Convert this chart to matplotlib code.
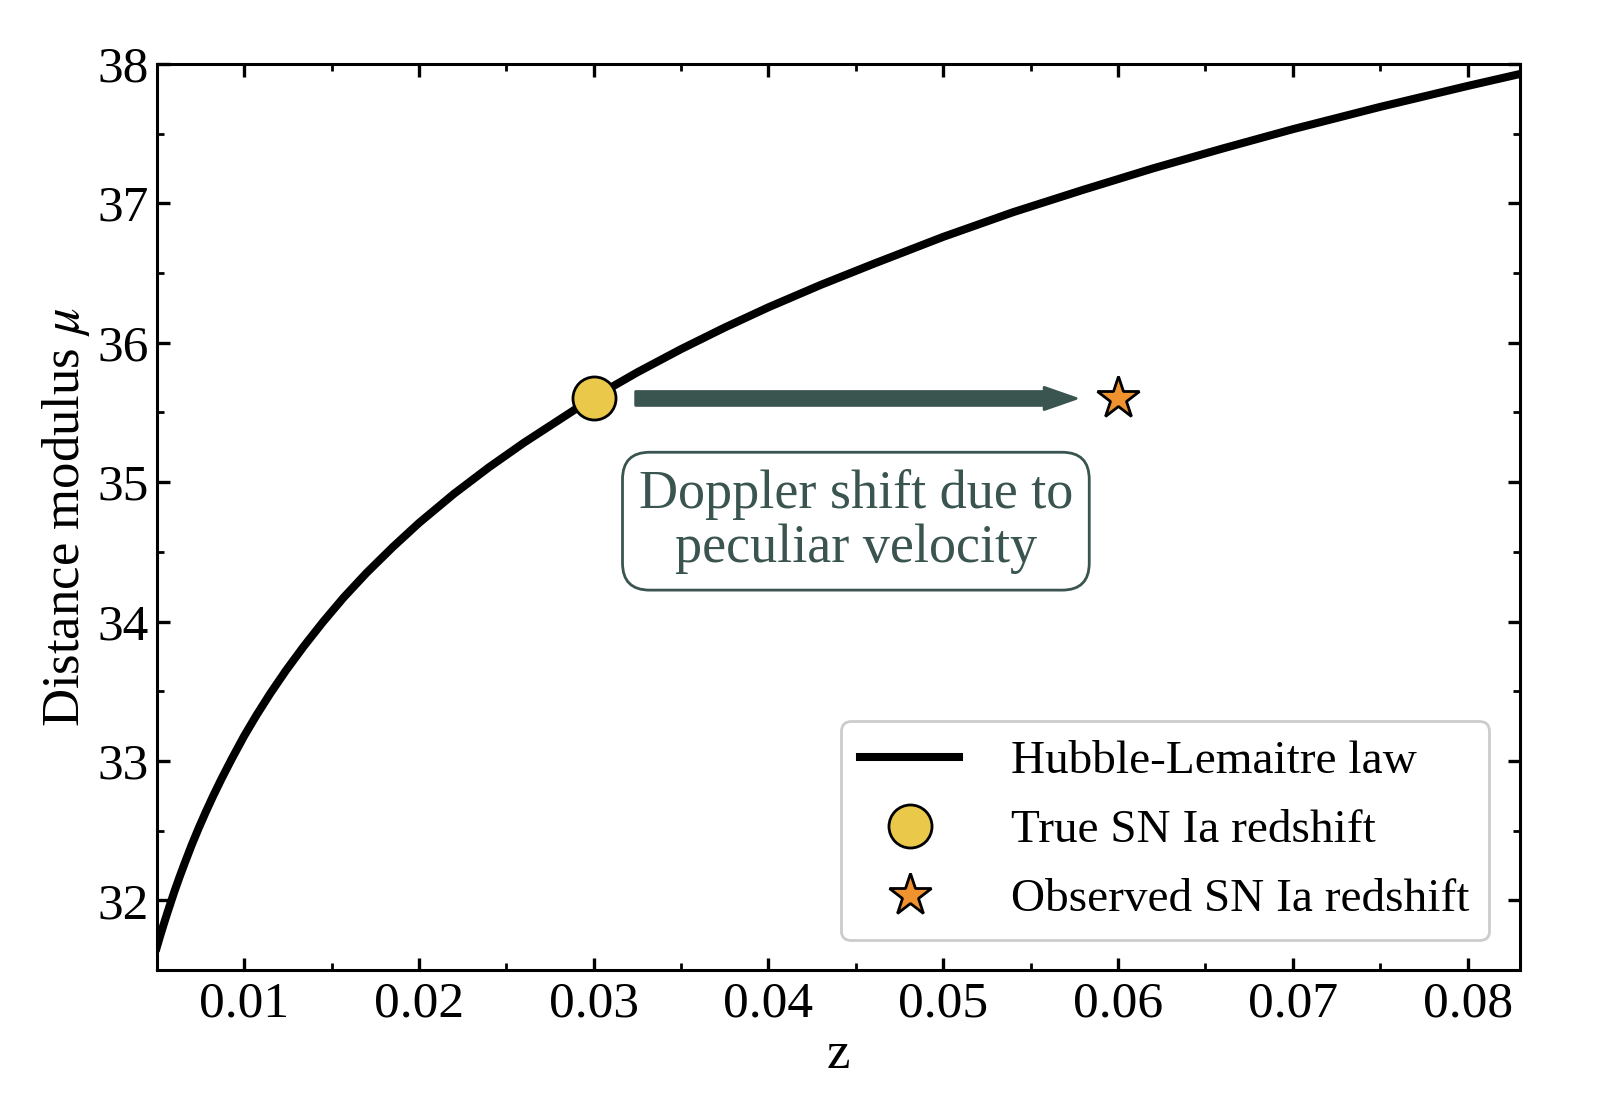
import matplotlib
matplotlib.use('Agg')
import matplotlib.pyplot as plt

# values
z_curve = [0.0050, 0.0052, 0.0054, 0.0056, 0.0058, 0.0060, 0.0063, 0.0066, 0.0070,
           0.0074, 0.0078, 0.0082, 0.0087, 0.0093, 0.0100, 0.0107, 0.0115, 0.0124,
           0.0134, 0.0145, 0.0157, 0.0170, 0.0185, 0.0200, 0.0220, 0.0240, 0.0260,
           0.0280, 0.0300, 0.0325, 0.0350, 0.0375, 0.0400, 0.0430, 0.0460, 0.0500,
           0.0540, 0.0580, 0.0620, 0.0660, 0.0700, 0.0750, 0.0800, 0.0830]
mu_curve = [31.664, 31.750, 31.831, 31.910, 31.986, 32.062, 32.168, 32.269, 32.399,
            32.520, 32.634, 32.743, 32.872, 33.018, 33.180, 33.328, 33.486, 33.651,
            33.821, 33.996, 34.174, 34.349, 34.534, 34.707, 34.916, 35.106, 35.282,
            35.445, 35.608, 35.788, 35.954, 36.109, 36.254, 36.415, 36.565, 36.759,
            36.936, 37.096, 37.250, 37.393, 37.531, 37.691, 37.841, 37.927]

z_true = 0.03
z_obs = 0.06
mu_sn = 35.6

xticks = [0.01, 0.02, 0.03, 0.04, 0.05, 0.06, 0.07, 0.08]
yticks = [32, 33, 34, 35, 36, 37, 38]

slate = '#3a5450'

plt.rcParams['font.family'] = ['Liberation Serif', 'DejaVu Serif']
plt.rcParams['mathtext.fontset'] = 'stix'

fig = plt.figure(figsize=(8, 5.5), dpi=200)
ax = fig.add_axes([0.098, 0.118, 0.852, 0.824])

ax.plot(z_curve, mu_curve, color='black', lw=2.9, label='Hubble-Lemaitre law', zorder=2,
        solid_joinstyle='round')
ax.plot([z_true], [mu_sn], 'o', ms=15.5, mfc='#eac84a', mec='black', mew=1.0,
        label='True SN Ia redshift', zorder=4)
ax.plot([z_obs], [mu_sn], '*', ms=16, mfc='#f0922e', mec='black', mew=1.0,
        label='Observed SN Ia redshift', zorder=4)

ax.annotate('', xy=(0.0576, mu_sn), xytext=(0.0324, mu_sn),
            arrowprops=dict(arrowstyle='simple,head_length=1.15,head_width=0.8,tail_width=0.5',
                            mutation_scale=10, color=slate, shrinkA=0, shrinkB=0))
ax.text(0.045, 34.72, 'Doppler shift due to\npeculiar velocity', color=slate,
        fontsize=19.5, ha='center', va='center', linespacing=1.1,
        bbox=dict(boxstyle='round,pad=0.3,rounding_size=0.5', fc='white', ec=slate, lw=1.0))

ax.set_xlim(0.005, 0.083)
ax.set_ylim(31.67, 38.0)
ax.set_xticks(xticks)
ax.set_yticks(yticks)
ax.set_xticklabels(['%.2f' % t for t in xticks])
ax.set_xticks([0.005 + 0.01 * i for i in range(8)], minor=True)
ax.set_yticks([31.5 + i for i in range(7)], minor=True)
ax.tick_params(which='both', direction='in', top=True, right=True, labelsize=18.5)
ax.tick_params(which='major', length=4.5, width=1.2)
ax.tick_params(axis='x', which='major', pad=4)
ax.tick_params(axis='y', which='major', pad=3)
ax.tick_params(which='minor', length=2.5, width=1.0)
for s in ax.spines.values():
    s.set_linewidth(1.1)

ax.set_xlabel('z', fontsize=19, labelpad=1)
ax.set_ylabel(r'Distance modulus $\mu$', fontsize=19, labelpad=2)

leg = ax.legend(loc='lower right', fontsize=17, frameon=True, fancybox=True,
                edgecolor='#cccccc', framealpha=1.0, borderpad=0.4, handlelength=2.1,
                handletextpad=1.1, labelspacing=0.55, borderaxespad=0,
                bbox_to_anchor=(0.977, 0.033))

fig.savefig('out.png', dpi=200)
